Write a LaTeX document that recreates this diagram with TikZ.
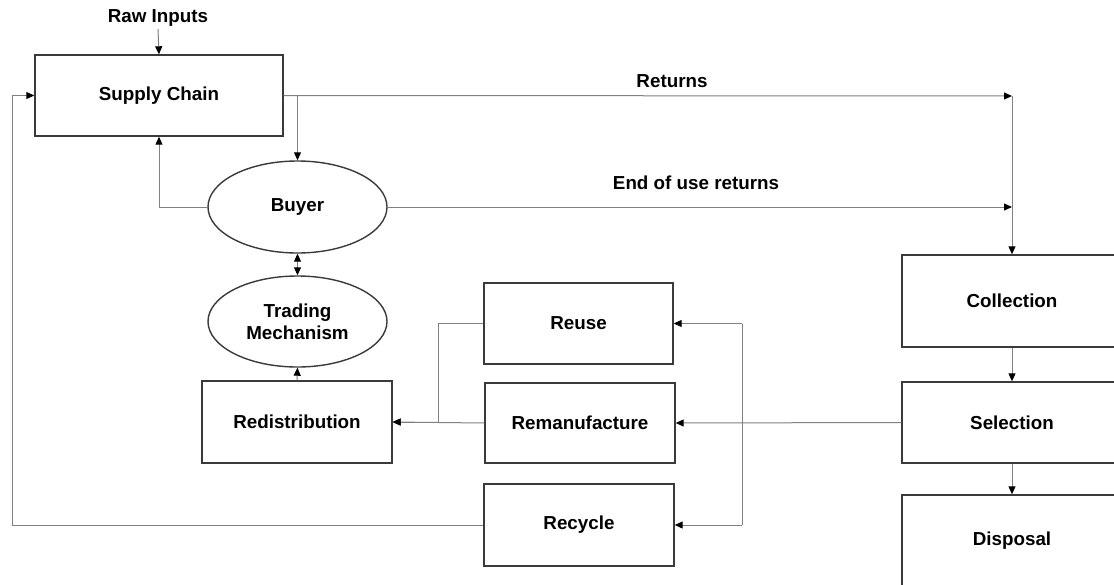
\documentclass[tikz,border=0pt]{standalone}
\usepackage{fontspec}
\setmainfont{Liberation Sans}
\usetikzlibrary{arrows.meta,shapes.geometric}
\definecolor{edgegray}{HTML}{808080}
\definecolor{boxgray}{HTML}{3A3A3A}
\tikzset{
  base/.style={inner sep=0pt, align=center, font=\fontsize{18.8}{21.8}\selectfont\bfseries},
  box/.style={base, draw=boxgray, line width=1.4pt, rectangle},
  oval/.style={base, draw=boxgray, line width=1.4pt, ellipse},
  lbl/.style={base},
  conn/.style={draw=edgegray, line width=1pt},
  arr/.style={conn, -{Triangle[length=8pt,width=7pt,color=black]}},
  darr/.style={conn, {Triangle[length=8pt,width=7pt,color=black]}-{Triangle[length=8pt,width=7pt,color=black]}}
}
\begin{document}
\begin{tikzpicture}[x=1pt,y=-1pt]
  \useasboundingbox (0,0) rectangle (1114,584);
  \clip (0,0) rectangle (1114,584);

  % main blocks
  \node[box, minimum width=248pt, minimum height=81pt] (sc) at (159,95.5) {Supply Chain};
  \node[oval, minimum width=179pt, minimum height=92pt] (buyer) at (297.5,207) {Buyer};
  \node[oval, minimum width=179pt, minimum height=91pt] (tm) at (297.5,321.5) {Trading\\Mechanism};
  \node[box, minimum width=190pt, minimum height=82pt] (redis) at (297,422) {Redistribution};
  \node[box, minimum width=189pt, minimum height=81pt] (reuse) at (578.5,323.5) {Reuse};
  \node[box, minimum width=190pt, minimum height=80pt] (reman) at (580,423) {Remanufacture};
  \node[box, minimum width=190pt, minimum height=82pt] (recyc) at (579,525) {Recycle};
  \node[box, minimum width=220pt, minimum height=92pt] (coll) at (1012,301) {Collection};
  \node[box, minimum width=220pt, minimum height=81pt] (sel) at (1012,422.5) {Selection};
  \node[box, minimum width=220pt, minimum height=92pt] (disp) at (1012,541) {Disposal};

  % labels
  \node[lbl] (raw) at (158,17.5) {Raw Inputs};
  \node[lbl] (retl) at (672,81) {Returns};
  \node[lbl] (eoul) at (696,183) {End of use returns};

  % routing points
  \coordinate (rc) at (1012,96);
  \coordinate (jx) at (438,0);
  \coordinate (sx) at (742,0);
  \coordinate (lx) at (12,0);

  % supply chain inputs and returns
  \draw[arr] ([yshift=-3pt]raw.south) -- (sc.north);
  \draw[arr] (sc.east) -- (rc);
  \draw[arr] (rc) -- (coll.north);
  \draw[arr] (buyer.north |- sc.east) -- (buyer.north);
  \draw[arr] (buyer.west) -- (sc.south |- buyer.west) -- (sc.south);
  \draw[arr] (buyer.east) -- (rc |- buyer.east);
  \draw[darr] (buyer.south) -- (tm.north);
  \draw[arr] (redis.north) -- (tm.south);

  % recovery options back to redistribution
  \draw[arr] (reuse.west) -- (jx |- reuse.west) -- (jx |- redis.east) -- (redis.east);
  \draw[arr] (reman.west) -- (redis.east);
  \draw[arr] (recyc.west) -- (lx |- recyc.west) -- (lx |- sc.west) -- (sc.west);

  % selection feeding the recovery options
  \draw[arr] (sel.west) -- (reman.east);
  \draw[conn] (sx |- reuse.east) -- (sx |- recyc.east);
  \draw[arr] (sx |- reuse.east) -- (reuse.east);
  \draw[arr] (sx |- recyc.east) -- (recyc.east);
  \draw[arr] (coll.south) -- (sel.north);
  \draw[arr] (sel.south) -- (disp.north);
\end{tikzpicture}
\end{document}
